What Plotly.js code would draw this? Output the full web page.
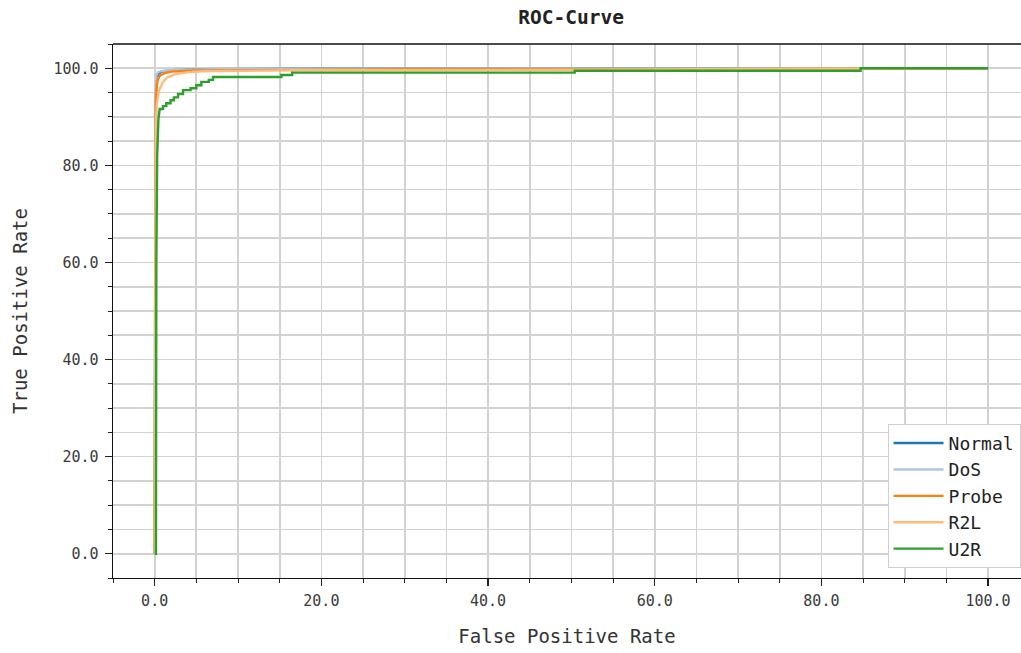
<!DOCTYPE html>
<html>
<head>
<meta charset="utf-8">
<script src="https://cdn.plot.ly/plotly-3.0.1.min.js"></script>
<style>html,body{margin:0;padding:0;background:#fff;overflow:hidden}</style>
</head>
<body>
<div id="chart" style="width:1021px;height:653px"></div>
<script>
// Values (percent)
const seriesNames = ["Normal", "DoS", "Probe", "R2L", "U2R"];
const seriesColors = ["#1f77b4", "#aec7e8", "#ff7f0e", "#ffbb78", "#2ca02c"];

const normalFPR = [0, 0.05, 0.1, 0.2, 0.4, 0.8, 2, 5, 20, 60, 100];
const normalTPR = [0, 70, 90, 97, 98.8, 99.3, 99.6, 99.8, 99.9, 99.95, 100];

const dosFPR = [0, 0.05, 0.1, 0.2, 0.4, 1, 3, 10, 50, 100];
const dosTPR = [0, 80, 94, 98.5, 99.2, 99.5, 99.7, 99.85, 99.95, 100];

const probeFPR = [0, 0.1, 0.15, 0.25, 0.4, 0.7, 1.2, 2, 4, 10, 30, 84.7, 100];
const probeTPR = [0, 82, 93, 96.5, 97.8, 98.6, 99.0, 99.3, 99.5, 99.6, 99.8, 99.9, 100];

const r2lFPR = [0, 0.1, 0.15, 0.25, 0.5, 1, 1.5, 2.5, 4, 6, 17, 50, 84.7, 100];
const r2lTPR = [0, 70, 88, 92.5, 95.3, 97.2, 98.1, 98.8, 99.2, 99.4, 99.6, 99.7, 100, 100];

const u2rFPR = [0, 0.15, 0.2, 0.3, 0.45, 0.6, 1.0, 1.0, 1.4, 1.4, 1.9, 1.9, 2.3, 2.3, 2.8, 2.8, 3.4, 3.4, 4.3, 4.3, 5.0, 5.0, 5.6, 5.6, 6.5, 6.5, 7.0, 7.0, 15.2, 15.2, 16.5, 16.5, 50.4, 50.4, 84.7, 84.7, 100];
const u2rTPR = [0, 0, 60, 82, 89.5, 91.6, 91.6, 92.2, 92.2, 92.8, 92.8, 93.4, 93.4, 94.0, 94.0, 94.7, 94.7, 95.5, 95.5, 95.9, 95.9, 96.5, 96.5, 97.2, 97.2, 97.6, 97.6, 98.2, 98.2, 98.6, 98.6, 99.1, 99.1, 99.5, 99.5, 100, 100];

const xs = [normalFPR, dosFPR, probeFPR, r2lFPR, u2rFPR];
const ys = [normalTPR, dosTPR, probeTPR, r2lTPR, u2rTPR];

const titleText = "ROC-Curve";
const xTitle = "False Positive Rate";
const yTitle = "True Positive Rate";

const FONT = "DejaVu Sans Mono, monospace";
const GRID = "#d2d2d2";

const traces = seriesNames.map((n, i) => ({
  type: "scatter", mode: "lines", name: n,
  x: xs[i], y: ys[i],
  line: {color: seriesColors[i], width: 2.4}
}));

function axis(title, standoff, labelStandoff) {
  return {
    title: {text: title, font: {family: FONT, size: 19, color: "#333"}, standoff: standoff},
    tickfont: {family: FONT, size: 15, color: "#3a3a3a"},
    tickformat: ".1f",
    dtick: 20, tick0: 0,
    ticks: "outside", ticklen: 7, tickwidth: 1.3, tickcolor: "#222",
    ticklabelstandoff: labelStandoff,
    showgrid: true, gridcolor: GRID, gridwidth: 1.7,
    minor: {dtick: 5, tick0: 0, ticks: "outside", ticklen: 4, tickwidth: 1, tickcolor: "#222",
            showgrid: true, gridcolor: GRID, gridwidth: 1.7},
    showline: true, linecolor: "#111", linewidth: 1.4,
    zeroline: false, mirror: false
  };
}

const xa = axis(xTitle, 20, 2);
xa.range = [-5, 103.95];
const ya = axis(yTitle, 20, 3);
ya.range = [-5, 105];

const layout = {
  width: 1021, height: 653,
  margin: {l: 113, r: 0, t: 44, b: 75},
  paper_bgcolor: "#fff", plot_bgcolor: "#fff",
  title: {text: "<b>" + titleText + "</b>", x: 0.5045, xref: "paper", xanchor: "center",
          y: 0.973, yref: "container", yanchor: "middle",
          font: {family: FONT, size: 19.5, color: "#222"}},
  xaxis: xa, yaxis: ya,
  showlegend: true,
  legend: {x: 0.9995, xanchor: "right", y: 0.019, yanchor: "bottom",
           bgcolor: "#fff", bordercolor: "#cfcfcf", borderwidth: 1,
           font: {family: FONT, size: 18, color: "#222"}, itemwidth: 50,
           tracegroupgap: 0},
  shapes: [{type: "line", xref: "paper", yref: "paper", x0: 0, x1: 1, y0: 1, y1: 1,
            line: {color: "#111", width: 1.6}}]
};

Plotly.newPlot("chart", traces, layout, {displayModeBar: false, staticPlot: true});
</script>
</body>
</html>
